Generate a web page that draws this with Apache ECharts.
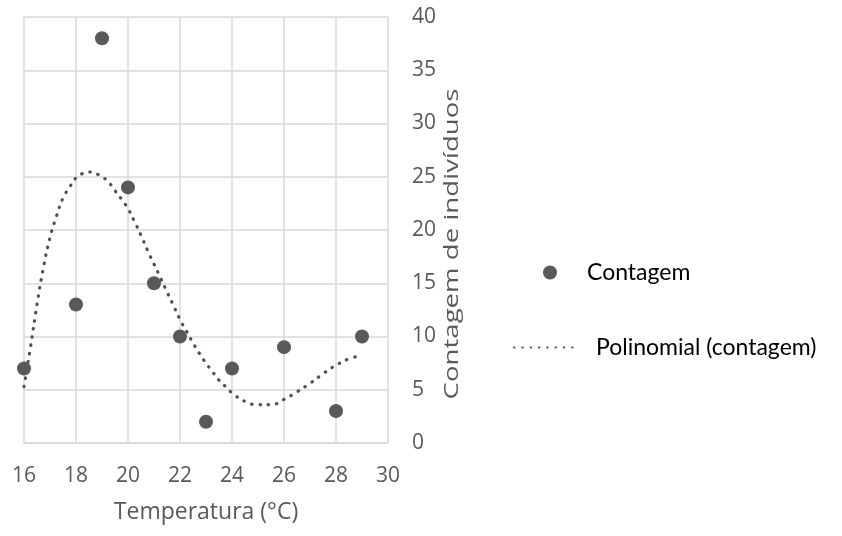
<!DOCTYPE html>
<html>
<head>
<meta charset="utf-8">
<script src="https://cdn.jsdelivr.net/npm/echarts@6/dist/echarts.min.js"></script>
<style>
html,body{margin:0;padding:0;background:#fff;}
#chart{width:842px;height:536px;}
</style>
</head>
<body>
<div id="chart"></div>
<script>
// Observed data
const temps = [16, 18, 19, 20, 21, 22, 23, 24, 26, 28, 29];
const counts = [7, 13, 38, 24, 15, 10, 2, 7, 9, 3, 10];

// Trendline (polynomial)
const trendTemps = [16, 16.25, 16.5, 16.75, 17, 17.25, 17.5, 17.75, 18, 18.25, 18.5, 18.75, 19, 19.25, 19.5, 19.75, 20, 20.25, 20.5, 20.75, 21, 21.25, 21.5, 21.75, 22, 22.25, 22.5, 22.75, 23, 23.25, 23.5, 23.75, 24, 24.5, 25, 25.5, 26, 26.5, 27, 27.5, 28, 28.5, 29];
const trendCounts = [5.3, 9.0, 13.0, 16.5, 19.3, 21.3, 23.0, 24.0, 24.9, 25.3, 25.45, 25.3, 25.0, 24.5, 23.7, 22.9, 22.0, 20.8, 19.5, 18.1, 16.8, 15.5, 14.2, 12.9, 11.6, 10.5, 9.4, 8.4, 7.5, 6.7, 5.9, 5.3, 4.7, 3.9, 3.6, 3.6, 4.1, 4.8, 5.6, 6.5, 7.3, 7.9, 8.2];

// Axis settings / labels
const xTicks = [16, 18, 20, 22, 24, 26, 28, 30];
const yTicks = [0, 5, 10, 15, 20, 25, 30, 35, 40];
const xTitle = 'Temperatura (°C)';
const yTitle = 'Contagem de indivíduos';
const seriesNames = ['Contagem', 'Polinomial (contagem)'];

const scatterData = temps.map((t, i) => [t, counts[i]]);
const trendData = trendTemps.map((t, i) => [t, trendCounts[i]]);

const gray = '#595959';
const gridColor = '#d9d9d9';
const axisFont = 'Open Sans';

const chart = echarts.init(document.getElementById('chart'), null, {renderer: 'canvas'});
chart.setOption({
  backgroundColor: '#ffffff',
  animation: false,
  grid: {left: 24, right: 454, top: 17, bottom: 93, containLabel: false},
  xAxis: {
    type: 'value',
    min: xTicks[0],
    max: xTicks[xTicks.length - 1],
    interval: xTicks[1] - xTicks[0],
    name: xTitle,
    nameLocation: 'middle',
    nameGap: 58,
    nameTextStyle: {color: gray, fontFamily: axisFont, fontSize: 23},
    axisLine: {show: true, lineStyle: {color: gridColor, width: 1.5}},
    axisTick: {show: false},
    axisLabel: {color: gray, fontFamily: axisFont, fontSize: 21, margin: 23},
    splitLine: {show: true, lineStyle: {color: gridColor, width: 1.5}}
  },
  yAxis: {
    type: 'value',
    position: 'right',
    min: yTicks[0],
    max: yTicks[yTicks.length - 1],
    interval: yTicks[1] - yTicks[0],
    axisLine: {show: false},
    axisTick: {show: false},
    axisLabel: {color: gray, fontFamily: axisFont, fontSize: 21, margin: 24, align: 'left'},
    splitLine: {show: true, lineStyle: {color: gridColor, width: 1.5}}
  },
  legend: [
    {
      data: [seriesNames[0]],
      orient: 'vertical',
      left: 538,
      top: 256,
      itemWidth: 14,
      itemHeight: 14,
      itemStyle: {opacity: 1},
      textStyle: {color: '#000', fontFamily: 'Lato', fontSize: 23, padding: [0, 0, 0, 25]}
    },
    {
      data: [seriesNames[1]],
      orient: 'vertical',
      left: 508,
      top: 331,
      itemWidth: 59,
      itemHeight: 14,
      itemStyle: {opacity: 0},
      textStyle: {color: '#000', fontFamily: 'Lato', fontSize: 23, padding: [0, 0, 0, 18]}
    }
  ],
  graphic: [
    {
      type: 'text',
      x: 452,
      y: 244,
      rotation: Math.PI / 2,
      scaleX: 1.38,
      scaleY: 1,
      silent: true,
      style: {
        text: yTitle,
        fill: gray,
        fontFamily: axisFont,
        fontSize: 20,
        align: 'center',
        verticalAlign: 'middle'
      }
    }
  ],
  series: [
    {
      name: seriesNames[0],
      type: 'scatter',
      data: scatterData,
      symbol: 'circle',
      symbolSize: 14,
      itemStyle: {color: gray, opacity: 1},
      z: 3
    },
    {
      name: seriesNames[1],
      type: 'line',
      data: trendData,
      symbol: 'none',
      smooth: true,
      lineStyle: {color: '#505050', width: 3.2, type: [0.5, 7.8], cap: 'round'},
      itemStyle: {color: gray},
      z: 2
    }
  ]
});
</script>
</body>
</html>
